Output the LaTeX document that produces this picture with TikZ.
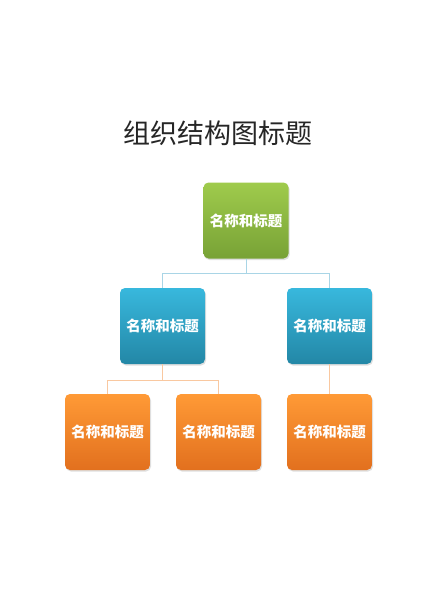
\documentclass[tikz,border=0pt]{standalone}
\usepackage{fontspec}
\newfontfamily\cjk{Noto Sans CJK SC}
\usetikzlibrary{shadows}
\definecolor{gtop}{HTML}{9FCB4C}
\definecolor{gbot}{HTML}{78A236}
\definecolor{btop}{HTML}{38B8DD}
\definecolor{bbot}{HTML}{2387A6}
\definecolor{otop}{HTML}{FF9A36}
\definecolor{obot}{HTML}{E2701E}
\definecolor{lblue}{HTML}{A9D5E6}
\definecolor{lorange}{HTML}{F9C8A0}
\tikzset{
  x=1pt, y=-1pt,
  box/.style={rounded corners=5pt, minimum width=85pt, minimum height=76pt,
    inner sep=0pt, text=white, font=\cjk\bfseries\fontsize{14.5}{16}\selectfont,
    drop shadow={shadow xshift=1pt, shadow yshift=-1.5pt, opacity=0.25}},
  gbox/.style={box, top color=gtop, bottom color=gbot},
  bbox/.style={box, top color=btop, bottom color=bbot},
  obox/.style={box, top color=otop, bottom color=obot},
  blink/.style={draw=lblue, line width=1pt},
  olink/.style={draw=lorange, line width=1pt}
}
\begin{document}
\begin{tikzpicture}
\useasboundingbox[fill=white] (0,0) rectangle (436,600);
\node[font=\cjk\fontsize{27}{30}\selectfont, text=black!85] (title) at (218,133) {组织结构图标题};
\node[gbox] (g) at (246,220.5) {名称和标题};
\node[bbox] (b1) at (162.5,326) {名称和标题};
\node[bbox] (b2) at (329.5,326) {名称和标题};
\node[obox] (o1) at (107.5,432) {名称和标题};
\node[obox] (o2) at (218.5,432) {名称和标题};
\node[obox] (o3) at (329.5,432) {名称和标题};
\draw[blink] (g.south) -- ++(0,15) -| (b1.north);
\draw[blink] (g.south) -- ++(0,15) -| (b2.north);
\draw[olink] (b1.south) -- ++(0,16) -| (o1.north);
\draw[olink] (b1.south) -- ++(0,16) -| (o2.north);
\draw[olink] (b2.south) -- (o3.north);
\end{tikzpicture}
\end{document}
